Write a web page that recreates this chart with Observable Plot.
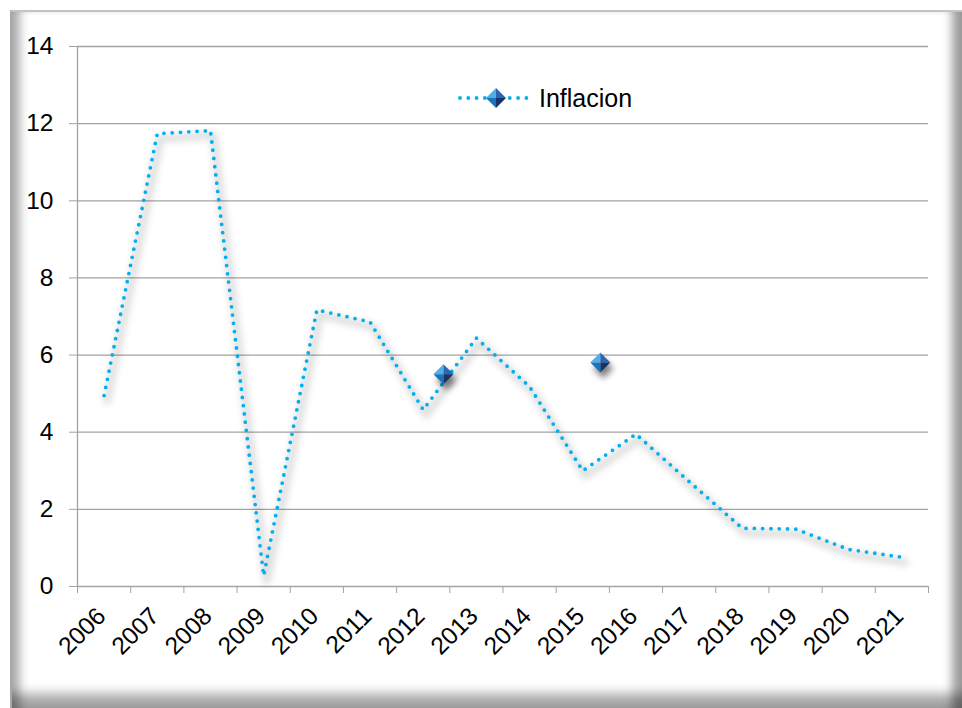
<!DOCTYPE html>
<html>
<head>
<meta charset="utf-8">
<script src="https://cdn.jsdelivr.net/npm/d3@7"></script>
<script src="https://cdn.jsdelivr.net/npm/@observablehq/plot@0.6"></script>
<style>
  html, body { margin: 0; padding: 0; background: #fff; }
  #wrap { position: relative; width: 962px; height: 708px; overflow: hidden;
          font-family: "Liberation Sans", Arial, sans-serif; }
  #frame { position: absolute; left: 10px; top: 10px; width: 952px; height: 698px;
           box-sizing: border-box; background: #fff;
           border-top: 2px solid #c4c4c4; border-left: 2px solid #a8a8a8;
           box-shadow: inset 14px 0 10px -6px rgba(0,0,0,0.32),
                       inset -16px 0 10px -6px rgba(0,0,0,0.38),
                       inset 0 -22px 12px -8px rgba(0,0,0,0.36); }
  #chart { position: absolute; left: 0; top: 0; }
  #legend { position: absolute; left: 456px; top: 84px; height: 28px;
            display: flex; align-items: center; color: #000; }
  #legend span { font-size: 25px; margin-left: 3px; }
</style>
</head>
<body>
<div id="wrap">
  <div id="frame"></div>
  <div id="chart"></div>
  <div id="legend">
    <svg width="80" height="28" viewBox="0 0 80 28">
      <line x1="4" y1="14" x2="76" y2="14" stroke="#00b0f0" stroke-width="3.8"
            stroke-dasharray="0 8.3" stroke-linecap="round"/>
      <polygon points="40,14 30,14 40,4" fill="#4fb0e6"/>
      <polygon points="40,14 40,4 50,14" fill="#2a66b4"/>
      <polygon points="40,14 50,14 40,24" fill="#163566"/>
      <polygon points="40,14 40,24 30,14" fill="#1c74bd"/>
    </svg>
    <span>Inflacion</span>
  </div>
</div>
<script>
// Annual inflation (%)
const years = [2006, 2007, 2008, 2009, 2010, 2011, 2012, 2013, 2014, 2015, 2016, 2017, 2018, 2019, 2020, 2021];
const inflation = [4.95, 11.74, 11.82, 0.28, 7.17, 6.86, 4.58, 6.44, 5.18, 3.00, 3.95, 2.72, 1.51, 1.49, 0.96, 0.76];

// Two loose diamond markers
const markerX = [2012.38, 2015.33];
const markerY = [5.5, 5.81];

// Value axis ticks
const yTicks = [0, 2, 4, 6, 8, 10, 12, 14];

const rows = years.map((year, i) => ({year, value: inflation[i]}));
const markers = markerX.map((x, i) => ({x, y: markerY[i]}));
const xDomain = [years[0] - 0.5, years[years.length - 1] + 0.5];
const boundaries = d3.range(xDomain[0], xDomain[1] + 0.01, 1);

// Triangular facets of a bevelled diamond (pyramid look)
function facet(a, b) {
  return {
    draw(ctx, size) {
      const h = Math.sqrt(size / Math.PI);
      ctx.moveTo(0, 0);
      ctx.lineTo(a[0] * h, a[1] * h);
      ctx.lineTo(b[0] * h, b[1] * h);
      ctx.closePath();
    }
  };
}
const fullDiamond = {
  draw(ctx, size) {
    const h = Math.sqrt(size / Math.PI);
    ctx.moveTo(0, -h); ctx.lineTo(h, 0); ctx.lineTo(0, h); ctx.lineTo(-h, 0); ctx.closePath();
  }
};
const facets = [
  {symbol: facet([-1, 0], [0, -1]), fill: "#4fb0e6"},
  {symbol: facet([0, -1], [1, 0]), fill: "#2a66b4"},
  {symbol: facet([1, 0], [0, 1]), fill: "#163566"},
  {symbol: facet([0, 1], [-1, 0]), fill: "#1c74bd"}
];

const grey = "#a3a3a3";
const shadowInk = "#010101";

const chart = Plot.plot({
  width: 962,
  height: 708,
  marginLeft: 77,
  marginRight: 34,
  marginTop: 46,
  marginBottom: 122,
  x: {type: "linear", domain: xDomain, label: null},
  y: {domain: [0, 14], label: null},
  style: {
    background: "transparent",
    fontFamily: '"Liberation Sans", Arial, sans-serif',
    fontSize: "24px",
    color: "#000",
    overflow: "visible"
  },
  marks: [
    Plot.ruleY(yTicks.slice(1), {stroke: grey, strokeWidth: 1.3}),
    Plot.axisY({ticks: yTicks, tickSize: 8, tickPadding: 16, stroke: grey, label: null, fontSize: 24.5}),
    Plot.ruleX([xDomain[0]], {stroke: grey, strokeWidth: 1.3}),
    Plot.ruleY([0], {stroke: grey, strokeWidth: 1.3}),
    Plot.axisX({ticks: boundaries, tickSize: 7, tickFormat: () => "", stroke: grey, label: null}),
    Plot.text(years, {
      x: d => d, text: d => String(d), frameAnchor: "bottom",
      dx: 3, dy: 31, rotate: -45, textAnchor: "end", fill: "#000", fontSize: 24.5
    }),
    Plot.line(rows, {
      x: "year", y: "value", stroke: shadowInk, strokeOpacity: 0.12,
      strokeWidth: 8, dx: 3, dy: 5
    }),
    Plot.line(rows, {
      x: "year", y: "value", stroke: "#00b0f0", strokeWidth: 3.8,
      strokeDasharray: "0 8.3", strokeLinecap: "round"
    }),
    Plot.dot(markers, {
      x: "x", y: "y", symbol: fullDiamond, r: 10, fill: shadowInk,
      fillOpacity: 0.5, dx: 3, dy: 6
    }),
    ...facets.map(f => Plot.dot(markers, {x: "x", y: "y", symbol: f.symbol, r: 10, fill: f.fill}))
  ]
});

// Soft blur for the drop shadows
const ns = "http://www.w3.org/2000/svg";
const defs = document.createElementNS(ns, "defs");
const filter = document.createElementNS(ns, "filter");
filter.setAttribute("id", "soft-shadow");
filter.setAttribute("x", "-50%");
filter.setAttribute("y", "-50%");
filter.setAttribute("width", "200%");
filter.setAttribute("height", "200%");
const blur = document.createElementNS(ns, "feGaussianBlur");
blur.setAttribute("stdDeviation", "3");
filter.append(blur);
defs.append(filter);
chart.prepend(defs);
chart.querySelectorAll(`[stroke="${shadowInk}"], [fill="${shadowInk}"]`)
  .forEach(el => el.setAttribute("filter", "url(#soft-shadow)"));

document.getElementById("chart").append(chart);
</script>
</body>
</html>
